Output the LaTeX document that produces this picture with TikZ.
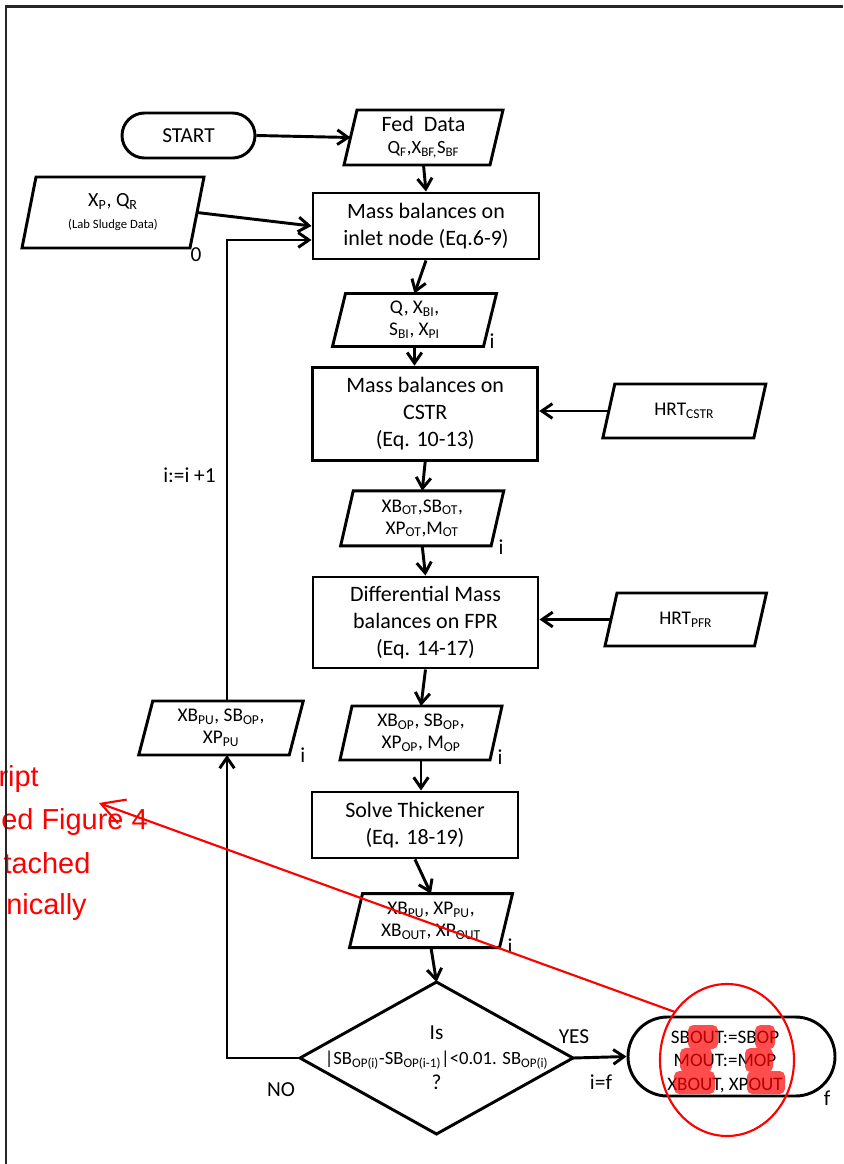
\documentclass[tikz,border=0pt]{standalone}
\usepackage{fontspec}
\setmainfont{Carlito}
\newfontfamily\redfont{Liberation Sans}
\usetikzlibrary{arrows.meta,calc}
\newcommand{\sbs}[1]{\textsubscript{#1}}
\newcommand{\fsz}[2]{\fontsize{#1}{#2}\selectfont}
\newcommand{\parout}[2]{\draw[lw,line join=miter] ([xshift=#2*0.75pt]#1.north west) -- ([xshift=#2*0.75pt]#1.north east) -- ([xshift=-#2*0.75pt]#1.south east) -- ([xshift=-#2*0.75pt]#1.south west) -- cycle;}
\begin{document}
\begin{tikzpicture}[x=0.75pt,y=-0.75pt,
  lw/.style={line width=2.2pt},
  arr/.style={lw,-{Straight Barb[length=8pt,width=11pt]}},
  box/.style 2 args={draw,lw,minimum width=#1*0.75pt,minimum height=#2*0.75pt,inner sep=0pt,align=center,font=\fsz{16.5}{20.5}},
  para/.style 2 args={minimum width=#1*0.75pt,minimum height=#2*0.75pt,inner sep=0pt,outer sep=0pt,align=center,font=\fsz{14.5}{16.5}},
  lab/.style={font=\fsz{16}{19},inner sep=0pt},
  redline/.style={draw=red,line width=1.6pt},
  redtext/.style={anchor=base east,inner sep=0pt,text=red,font=\redfont\fsz{21.7}{26}}
]
\useasboundingbox (0,0) rectangle (843,1164);
% red annotation text (cut at the page edge)
\begin{scope}
\clip (0,0) rectangle (843,1164);
\node[redtext] (r1) at (39,786.7) {ript};
\node[redtext] (r2) at (148,829) {ed Figure 4};
\node[redtext] (r3) at (90.7,873) {tached};
\node[redtext] (r4) at (87,914) {nically};
\end{scope}
% frame
\draw[line width=1.8pt,black!85] (6,1164) -- (6,6.5) -- (843,6.5);

% nodes
\node[box={133}{45},rounded corners=16.875pt,font=\fsz{16}{19}] (start) at (188.5,135.5) {START};
\node[para={146}{55}] (fed) at (423.5,137.5) {{\fsz{16.5}{19.5}Fed~~Data}\\{\fsz{14}{16}Q\sbs{F},X\sbs{BF,}S\sbs{BF}}};
\node[box={226}{66}] (inlet) at (426,226) {Mass balances on\\inlet node (Eq.6-9)};
\node[para={168}{71}] (lab) at (113,212.5) {{\fsz{15}{18}X\sbs{P}, Q\sbs{R}}\\{\fsz{9.5}{12}(Lab Sludge Data)}};
\node[para={151}{53}] (qin) at (414.5,320) {Q, X\sbs{BI},\\S\sbs{BI}, X\sbs{PI}};
\node[box={225}{93}] (cstr) at (425.2,413.7) {Mass balances on\\CSTR\\(Eq. 10-13)};
\node[para={151}{54}] (hrt1) at (684.3,411) {HRT\sbs{CSTR}};
\node[para={150.5}{55}] (xbot) at (422.2,518.3) {XB\sbs{OT},SB\sbs{OT},\\XP\sbs{OT},M\sbs{OT}};
\node[box={225}{91}] (fpr) at (425.5,622.5) {Differential Mass\\balances on FPR\\(Eq. 14-17)};
\node[para={149.5}{53}] (hrt2) at (685.75,619.5) {HRT\sbs{PFR}};
\node[para={150}{54}] (xbop) at (421,733) {XB\sbs{OP}, SB\sbs{OP},\\XP\sbs{OP}, M\sbs{OP}};
\node[box={206}{66}] (thick) at (415,825) {Solve Thickener\\(Eq. 18-19)};
\node[para={150}{54}] (xbpu) at (431,920.7) {XB\sbs{PU}, XP\sbs{PU},\\XB\sbs{OUT}, XP\sbs{OUT}};
\node[para={150.5}{54}] (lp) at (221,728) {XB\sbs{PU}, SB\sbs{OP},\\XP\sbs{PU}};
\node[para={273}{152},font=\fsz{14}{18.75}] (dia) at (436.5,1058) {{\fsz{16}{18.75}Is}\\|SB\sbs{OP(i)}-SB\sbs{OP(i-1)}|<0.01. SB\sbs{OP(i)}\\{\fsz{16}{18.75}?}};
\node[draw,lw,rounded corners=29.6pt,minimum width=207*0.75pt,minimum height=79*0.75pt,inner sep=0pt] (endt) at (731.5,1056.5) {};
\node[inner sep=0pt,align=center,font=\fsz{14.3}{17.6}] (endtxt) at (725,1062) {SBOUT:=SBOP\\MOUT:=MOP\\XBOUT, XPOUT};

% outlines of parallelograms and diamond
\parout{fed}{6.5}
\parout{lab}{7}
\parout{qin}{6.5}
\parout{hrt1}{6}
\parout{xbot}{6.3}
\parout{hrt2}{6}
\parout{xbop}{6}
\parout{xbpu}{6.5}
\parout{lp}{7}
\draw[lw,line join=miter] (dia.north) -- (dia.east) -- (dia.south) -- (dia.west) -- cycle;

% labels
\node[lab] (l0) at (196,255) {0};
\node[lab] (iq) at (492,341) {i};
\node[lab] (ixo) at (501,546.7) {i};
\node[lab] (ixp) at (500,757) {i};
\node[lab] (ixu) at (510,946) {i};
\node[lab] (ilp) at (302.7,755) {i};
\node[lab] (lf) at (827,1098) {f};
\node[lab] (yes) at (574,1037) {YES};
\node[lab] (ieqf) at (601,1082) {i=f};
\node[lab] (no) at (281,1090) {NO};
\node[lab] (inc) at (189.5,475) {i:=i +1};

% connectors
\draw[arr] (start.east) -- (fed.west);
\draw[arr] (fed.south) -- (inlet.north);
\draw[arr] (lab.east) -- (inlet.west);
\draw[arr] (inlet.south) -- (qin.north);
\draw[arr] (qin.south) -- (qin.south |- cstr.north);
\draw[arr] (hrt1.west) -- (hrt1.west -| cstr.east);
\draw[arr] (cstr.south) -- (xbot.north);
\draw[arr] (xbot.south) -- (fpr.north);
\draw[arr] (hrt2.west) -- (hrt2.west -| fpr.east);
\draw[arr] (fpr.south) -- (xbop.north);
\draw[arr] (xbop.south) -- (xbop.south |- thick.north);
\draw[arr] (thick.south) -- (xbpu.north);
\draw[arr] (xbpu.south) -- (dia.north);
\draw[arr] (dia.east) -- (endt.west);
\coordinate (lx) at (227,1058);
\draw[arr,line join=miter] (dia.west) -- (lx) -- (lx |- lp.south);
\coordinate (inl) at ([yshift=-10.5pt]inlet.west);
\draw[arr,line join=miter] (lx |- lp.north) -- (lx |- inl) -- (inl);

% red highlights and annotation
\fill[red,fill opacity=0.7,rounded corners=4pt]
  (688,1025) rectangle (718,1049) (680,1048) rectangle (712,1072) (674,1071) rectangle (715,1094);
\fill[red,fill opacity=0.7,rounded corners=4pt]
  (755,1025) rectangle (775,1049) (745,1048) rectangle (773,1072) (747,1071) rectangle (785,1094);
\draw[redline] (727,1060) ellipse [x radius=67,y radius=76];
\coordinate (ra) at (675,1012);
\coordinate (rb) at (99,803);
\draw[redline,-{Straight Barb[length=17pt,width=19pt]}] (ra) -- (rb);
\end{tikzpicture}
\end{document}
